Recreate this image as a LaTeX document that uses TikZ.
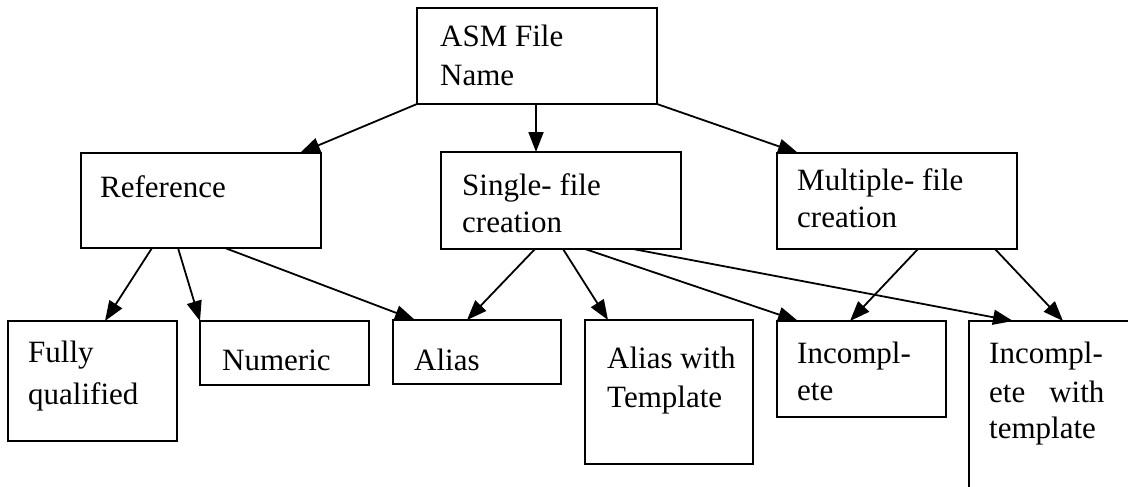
\documentclass[tikz,border=0pt]{standalone}
\usepackage{fontspec}
\setmainfont{Liberation Serif}
\usetikzlibrary{arrows.meta,calc}
\tikzset{
  box/.style={draw=black, line width=2.2pt, inner sep=0pt, outer sep=0pt, anchor=north west, rectangle},
  lbl/.style={anchor=base west, inner sep=0pt, font=\fontsize{31}{37}\selectfont},
  conn/.style={line width=1.8pt, -{Triangle[length=20pt,width=15pt]}},
}
\begin{document}
\begin{tikzpicture}[x=1pt,y=-1pt]
\useasboundingbox (0,0) rectangle (1128,487);
\clip (0,0) rectangle (1128,487);
% boxes
\node[box, minimum width=240pt, minimum height=96pt] (asm) at (417,8) {};
\node[box, minimum width=240pt, minimum height=95pt] (ref) at (81,153) {};
\node[box, minimum width=240pt, minimum height=97pt] (single) at (441,152) {};
\node[box, minimum width=240pt, minimum height=96pt] (multi) at (777,153) {};
\node[box, minimum width=169pt, minimum height=120pt] (fully) at (8,321) {};
\node[box, minimum width=169pt, minimum height=64pt] (numeric) at (200,321) {};
\node[box, minimum width=168pt, minimum height=64pt] (alias) at (393,320) {};
\node[box, minimum width=168pt, minimum height=144pt] (awt) at (585,320) {};
\node[box, minimum width=169pt, minimum height=96pt] (incomplete) at (777,321) {};
\node[box, minimum width=220pt, minimum height=220pt] (iwt) at (969,321) {};
% labels
\node[lbl] (asm1) at ($(asm.north west)+(23,39)$) {ASM File};
\node[lbl] (asm2) at ($(asm.north west)+(23,77)$) {Name};
\node[lbl] (ref1) at ($(ref.north west)+(19,44)$) {Reference};
\node[lbl] (sin1) at ($(single.north west)+(21,43)$) {Single- file};
\node[lbl] (sin2) at ($(single.north west)+(21,80)$) {creation};
\node[lbl] (mul1) at ($(multi.north west)+(20,37)$) {Multiple- file};
\node[lbl] (mul2) at ($(multi.north west)+(20,74)$) {creation};
\node[lbl] (ful1) at ($(fully.north west)+(20,41)$) {Fully};
\node[lbl] (ful2) at ($(fully.north west)+(20,83)$) {qualified};
\node[lbl] (num1) at ($(numeric.north west)+(22,49)$) {Numeric};
\node[lbl] (ali1) at ($(alias.north west)+(21,50)$) {Alias};
\node[lbl] (awt1) at ($(awt.north west)+(22,48)$) {Alias with};
\node[lbl] (awt2) at ($(awt.north west)+(22,87)$) {Template};
\node[lbl] (inc1) at ($(incomplete.north west)+(20,42)$) {Incompl-};
\node[lbl] (inc2) at ($(incomplete.north west)+(20,79)$) {ete};
\node[lbl] (iwt1) at ($(iwt.north west)+(20,42)$) {Incompl-};
\node[lbl] (iwt2) at ($(iwt.north west)+(20,81)$) {ete\hskip 24pt with};
\node[lbl] (iwt3) at ($(iwt.north west)+(20,117)$) {template};
% connectors
\draw[conn] (asm.south west) -- ($(ref.north west)+(219,0)$);
\draw[conn] ($(asm.south west)+(119,0)$) -- ($(single.north west)+(95,0)$);
\draw[conn] (asm.south east) -- ($(multi.north west)+(21,0)$);
\draw[conn] ($(ref.south west)+(71,0)$) -- ($(fully.north west)+(97,0)$);
\draw[conn] ($(ref.south west)+(97,0)$) -- (numeric.north west);
\draw[conn] ($(ref.south west)+(144,0)$) -- ($(alias.north west)+(22,0)$);
\draw[conn] ($(single.south west)+(94,0)$) -- ($(alias.north west)+(74,0)$);
\draw[conn] ($(single.south west)+(122,0)$) -- ($(awt.north west)+(23,0)$);
\draw[conn] ($(single.south west)+(144,0)$) -- ($(incomplete.north west)+(21,0)$);
\draw[conn] ($(single.south west)+(192,0)$) -- ($(iwt.north west)+(44,0)$);
\draw[conn] ($(multi.south west)+(141,0)$) -- ($(incomplete.north west)+(73,0)$);
\draw[conn] ($(multi.south west)+(218,0)$) -- ($(iwt.north west)+(94,0)$);
\end{tikzpicture}
\end{document}
